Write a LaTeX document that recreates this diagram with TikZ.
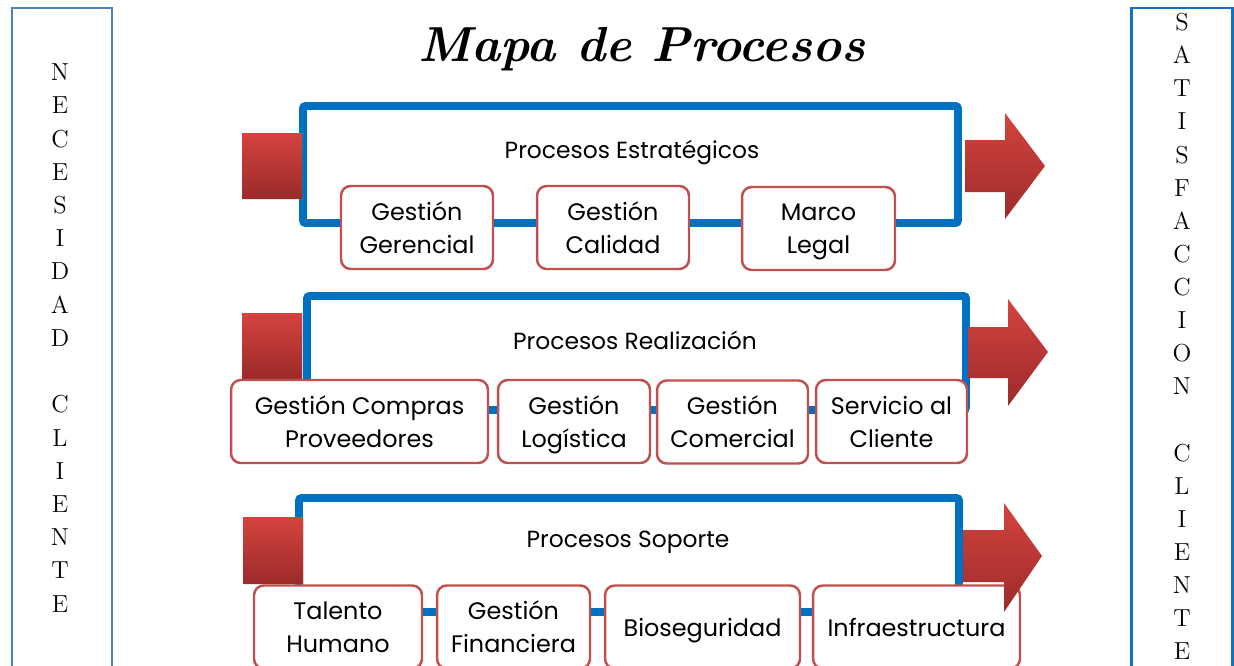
\documentclass[tikz,border=0pt]{standalone}
\usepackage{fontspec}
\newfontfamily\procfont{Poppins}
\usepackage{tikz}
\usetikzlibrary{shadows}
\definecolor{barblue}{HTML}{0070C0}
\definecolor{boxred}{HTML}{C0504D}
\definecolor{sqtop}{HTML}{D4433F}
\definecolor{sqbot}{HTML}{9C2B2A}
\definecolor{leftblue}{HTML}{4F81BD}
\definecolor{rightblue}{HTML}{1370C2}
\tikzset{
	procbox/.style={rectangle, rounded corners=5.5pt, draw=boxred, line width=1.4pt, fill=white, align=center, inner sep=0pt, minimum height=1.66cm, text depth=0pt, font=\procfont\fontsize{13.6}{18.8}\selectfont},
	bluebar/.style={barblue, line width=4.5pt, rounded corners=1.5pt},
	redsquare/.style={top color=sqtop, bottom color=sqbot, draw=none, drop shadow={opacity=0.2, shadow xshift=0.6pt, shadow yshift=-0.9pt}},
	redarrow/.style={top color=sqtop, bottom color=sqbot, draw=none},
	sidebox/.style={line width=1.7pt},
	sideletters/.style={align=center, font=\fontsize{14}{18.9}\selectfont},
	rowlabel/.style={font=\procfont\fontsize{13.3}{15}\selectfont}
}

\begin{document}
\begin{tikzpicture}[x=0.02cm,y=-0.02cm]
	\useasboundingbox (0,0) rectangle (1234,666);
	
	% columnas laterales
	\draw [leftblue,sidebox] (12,8) rectangle (112,690);
	\node[sideletters] (necesidad) at (60,338) {N\\E\\C\\E\\S\\I\\D\\A\\D\\\mbox{}\\C\\L\\I\\E\\N\\T\\E};
	\draw [rightblue,sidebox] (1131,8) rectangle (1232,690);
	\node[sideletters, font=\fontsize{14}{18.85}\selectfont] (satisfaccion) at (1182,336.5) {S\\A\\T\\I\\S\\F\\A\\C\\C\\I\\O\\N\\\mbox{}\\C\\L\\I\\E\\N\\T\\E};
	
	\node[font=\fontsize{28}{34}\selectfont\bfseries\itshape] (titulo) at (642,49) {Mapa de Procesos};
	
	% procesos estrategicos
	\draw [bluebar] (303,106) rectangle (958,223);
	\shade [redsquare] (242,133) rectangle (302,198);
	\node[rowlabel] (estrategicos) at (632,153) {Procesos Estratégicos};
	\node[procbox, minimum width=3.04cm] (gerencial) at (417,227.5) {Gestión\\Gerencial};
	\node[procbox, minimum width=3.04cm] (calidad) at (613,227.5) {Gestión\\Calidad};
	\node[procbox, minimum width=3.06cm] (legal) at (818.5,228.5) {Marco\\Legal};
	\shade [redarrow] (965,140) -- (1005,140) -- (1005,113) -- (1045,166) -- (1005,219) -- (1005,192) -- (965,192) -- cycle;
	
	% procesos realizacion
	\draw [bluebar] (307,296) rectangle (966,410);
	\shade [redsquare] (242,313) rectangle (302,378);
	\node[rowlabel] (realizacion) at (635,340) {Procesos Realización};
	\node[procbox, minimum width=5.14cm] (compras) at (359.5,421.5) {Gestión Compras\\Proveedores};
	\node[procbox, minimum width=3.04cm] (logistica) at (574,421.5) {Gestión\\Logística};
	\node[procbox, minimum width=3.02cm] (comercial) at (732.5,422) {Gestión\\Comercial};
	\node[procbox, minimum width=3.02cm] (servicio) at (891.5,421.5) {Servicio al\\Cliente};
	\shade [redarrow] (968,327) -- (1008,327) -- (1008,299) -- (1048,352) -- (1008,406) -- (1008,378) -- (968,378) -- cycle;
	
	% procesos soporte
	\draw [bluebar] (299,498) rectangle (959,612);
	\shade [redsquare] (243,517) rectangle (303,583);
	\node[rowlabel] (soporte) at (628,542) {Procesos Soporte};
	\node[procbox, minimum width=3.36cm] (humano) at (338,627) {Talento\\Humano};
	\node[procbox, minimum width=3.06cm] (financiera) at (513.5,627) {Gestión\\Financiera};
	\node[procbox, minimum width=3.9cm] (bioseguridad) at (702.5,627) {Bioseguridad};
	\node[procbox, minimum width=4.14cm] (infraestructura) at (916.5,627) {Infraestructura};
	\shade [redarrow] (963,530) -- (1004,530) -- (1004,503) -- (1042,556) -- (1004,612) -- (1004,582) -- (963,582) -- cycle;
\end{tikzpicture}
\end{document}
